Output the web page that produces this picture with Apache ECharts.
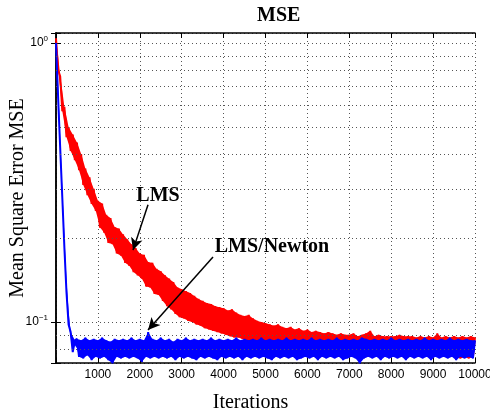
<!DOCTYPE html>
<html>
<head>
<meta charset="utf-8">
<script src="https://cdn.jsdelivr.net/npm/echarts@6/dist/echarts.min.js"></script>
<style>
html, body { margin: 0; padding: 0; background: #fff; }
#main { width: 490px; height: 411px; }
</style>
</head>
<body>
<div id="main"></div>
<script>
// one sample every 50 iterations, 0..10000
var step = 50;

// LMS learning curve (red)
var lmsMse = [
    1.04, 0.80, 0.76, 0.57, 0.59, 0.46, 0.50, 0.41, 0.47, 0.38,
    0.44, 0.35, 0.40, 0.31, 0.355, 0.285, 0.33, 0.265, 0.30, 0.25,
    0.272, 0.218, 0.266, 0.209, 0.242, 0.192, 0.236, 0.190, 0.219, 0.176,
    0.216, 0.173, 0.206, 0.163, 0.198, 0.159, 0.19, 0.151, 0.184, 0.147,
    0.176, 0.143, 0.174, 0.134, 0.164, 0.133, 0.163, 0.126, 0.155, 0.125,
    0.152, 0.119, 0.147, 0.114, 0.143, 0.111, 0.139, 0.107, 0.133, 0.104,
    0.131, 0.103, 0.129, 0.101, 0.127, 0.100, 0.124, 0.098, 0.121, 0.097,
    0.119, 0.095, 0.117, 0.094, 0.116, 0.093, 0.114, 0.092, 0.113, 0.091,
    0.112, 0.090, 0.110, 0.089, 0.111, 0.088, 0.108, 0.088, 0.106, 0.087,
    0.105, 0.086, 0.106, 0.085, 0.103, 0.085, 0.101, 0.084, 0.100, 0.084,
    0.099, 0.083, 0.098, 0.083, 0.097, 0.082, 0.098, 0.082, 0.096, 0.081,
    0.095, 0.081, 0.096, 0.080, 0.094, 0.080, 0.095, 0.080, 0.093, 0.079,
    0.094, 0.079, 0.092, 0.079, 0.093, 0.078, 0.092, 0.079, 0.091, 0.078,
    0.092, 0.078, 0.091, 0.078, 0.090, 0.078, 0.091, 0.077, 0.090, 0.078,
    0.090, 0.077, 0.091, 0.077, 0.089, 0.077, 0.090, 0.077, 0.091, 0.077,
    0.093, 0.077, 0.089, 0.076, 0.090, 0.077, 0.089, 0.076, 0.089, 0.076,
    0.089, 0.076, 0.089, 0.076, 0.090, 0.076, 0.089, 0.076, 0.089, 0.076,
    0.089, 0.075, 0.088, 0.076, 0.089, 0.075, 0.088, 0.075, 0.089, 0.075,
    0.088, 0.075, 0.091, 0.075, 0.088, 0.075, 0.089, 0.075, 0.088, 0.075,
    0.089, 0.075, 0.088, 0.074, 0.089, 0.075, 0.088, 0.074, 0.089, 0.075,
    0.088
];

// LMS/Newton learning curve (blue)
var newtonMse = [
    1.0, 0.64, 0.42, 0.28, 0.185, 0.128, 0.098, 0.092, 0.078, 0.086,
    0.087, 0.075, 0.086, 0.074, 0.088, 0.076, 0.086, 0.073, 0.087, 0.075,
    0.086, 0.074, 0.088, 0.075, 0.086, 0.073, 0.085, 0.071, 0.087, 0.075,
    0.086, 0.074, 0.087, 0.075, 0.086, 0.074, 0.088, 0.075, 0.086, 0.074,
    0.087, 0.072, 0.086, 0.075, 0.092, 0.074, 0.087, 0.075, 0.086, 0.074,
    0.088, 0.075, 0.086, 0.074, 0.087, 0.075, 0.085, 0.073, 0.087, 0.075,
    0.086, 0.074, 0.088, 0.075, 0.086, 0.074, 0.087, 0.073, 0.086, 0.075,
    0.087, 0.074, 0.086, 0.075, 0.088, 0.074, 0.086, 0.073, 0.087, 0.075,
    0.086, 0.074, 0.087, 0.075, 0.086, 0.074, 0.088, 0.075, 0.086, 0.073,
    0.087, 0.075, 0.086, 0.074, 0.087, 0.075, 0.086, 0.074, 0.088, 0.075,
    0.086, 0.074, 0.087, 0.073, 0.086, 0.075, 0.087, 0.074, 0.086, 0.075,
    0.088, 0.074, 0.086, 0.075, 0.087, 0.073, 0.086, 0.074, 0.087, 0.075,
    0.086, 0.074, 0.088, 0.075, 0.086, 0.073, 0.087, 0.075, 0.086, 0.074,
    0.087, 0.075, 0.086, 0.074, 0.088, 0.075, 0.086, 0.073, 0.087, 0.074,
    0.086, 0.075, 0.087, 0.074, 0.086, 0.071, 0.088, 0.074, 0.087, 0.075,
    0.086, 0.074, 0.087, 0.075, 0.086, 0.073, 0.087, 0.075, 0.086, 0.074,
    0.088, 0.075, 0.086, 0.074, 0.087, 0.075, 0.086, 0.073, 0.087, 0.075,
    0.086, 0.074, 0.087, 0.075, 0.086, 0.074, 0.088, 0.075, 0.086, 0.073,
    0.087, 0.075, 0.086, 0.074, 0.087, 0.075, 0.086, 0.074, 0.088, 0.075,
    0.086, 0.073, 0.087, 0.075, 0.086, 0.074, 0.087, 0.075, 0.086, 0.074,
    0.086
];

// dotted grid at the minor log ticks
var minorGrid = [0.08, 0.09, 0.2, 0.3, 0.4, 0.5, 0.6, 0.7, 0.8, 0.9];

// annotations (iteration, MSE)
var lmsArrow = [[2196, 0.263], [1838, 0.181]];
var newtonArrow = [[3747, 0.171], [2196, 0.0936]];
var lmsLabelAt = [2434, 0.283];
var newtonLabelAt = [5155, 0.186];

function pairs(values) {
    return values.map(function (v, i) { return [i * step, v]; });
}

// solid fill covering the noise band of a curve
function noiseBand(values, color, z) {
    return {
        type: 'custom',
        data: [[0, 1]],
        z: z,
        silent: true,
        clip: true,
        renderItem: function (params, api) {
            var up = [], low = [];
            for (var i = 0; i < values.length; i++) {
                var a = i > 0 ? values[i - 1] : values[i];
                var b = i < values.length - 1 ? values[i + 1] : values[i];
                var m = (a + b) / 2;
                up.push(api.coord([i * step, Math.max(values[i], m)]));
                low.push(api.coord([i * step, Math.min(values[i], m)]));
            }
            return {
                type: 'polygon',
                shape: { points: up.concat(low.reverse()) },
                style: { fill: color }
            };
        }
    };
}

function curve(name, values, color, z) {
    return {
        name: name,
        type: 'line',
        data: pairs(values),
        showSymbol: false,
        lineStyle: { color: color, width: 2 },
        itemStyle: { color: color },
        z: z
    };
}

var serif = 'Liberation Serif';
var sans = 'Liberation Sans';
var gridDots = { color: '#555', width: 1, type: [1, 3] };

var chart = echarts.init(document.getElementById('main'));
chart.setOption({
    animation: false,
    title: {
        text: 'MSE',
        left: 257,
        top: 6,
        padding: 0,
        textStyle: { fontFamily: serif, fontWeight: 'bold', fontSize: 20, color: '#000' }
    },
    grid: { left: 56, right: 15, top: 33, bottom: 48, outerBoundsMode: 'none' },
    xAxis: [{
        type: 'value',
        min: 0,
        max: 10000,
        interval: 1000,
        name: 'Iterations',
        nameLocation: 'middle',
        nameGap: 30,
        nameTextStyle: { fontFamily: serif, fontSize: 20, color: '#000', padding: [0, 30, 0, 0] },
        axisLine: { lineStyle: { color: '#000', width: 1.5 } },
        axisTick: { inside: true, length: 5, lineStyle: { color: '#000' } },
        axisLabel: {
            fontFamily: sans, fontSize: 12, color: '#000', margin: 6,
            formatter: function (v) { return v === 0 ? '' : String(v); }
        },
        splitLine: { show: true, lineStyle: gridDots }
    }, {
        type: 'value',
        position: 'top',
        min: 0,
        max: 10000,
        interval: 1000,
        axisLine: { lineStyle: { color: '#000', width: 1.5 } },
        axisTick: { inside: true, length: 5, lineStyle: { color: '#000' } },
        axisLabel: { show: false },
        splitLine: { show: false }
    }],
    yAxis: [{
        type: 'log',
        logBase: 10,
        min: 0.0713,
        max: 1.086,
        name: 'Mean Square Error MSE',
        nameLocation: 'middle',
        nameGap: 28,
        nameMoveOverlap: false,
        nameRotate: 90,
        nameTextStyle: { fontFamily: serif, fontSize: 20, color: '#000' },
        axisLine: { show: true, lineStyle: { color: '#000', width: 1.5 } },
        axisTick: { show: true, inside: true, length: 5, lineStyle: { color: '#000' } },
        axisLabel: {
            margin: 8,
            color: '#000',
            formatter: function (v) {
                var e = Math.log(v) / Math.LN10;
                var r = Math.round(e);
                if (Math.abs(e - r) > 1e-6) return '';
                return '{b|10}{s|' + (r < 0 ? '\u2212' + (-r) : r) + '}';
            },
            rich: {
                b: { fontFamily: sans, fontSize: 12, color: '#000' },
                s: { fontFamily: sans, fontSize: 8, color: '#000', padding: [0, 0, 8, 0] }
            }
        },
        splitLine: { show: true, lineStyle: gridDots }
    }, {
        type: 'log',
        logBase: 10,
        position: 'right',
        min: 0.0713,
        max: 1.086,
        axisLine: { show: true, lineStyle: { color: '#000', width: 1.5 } },
        axisTick: { show: true, inside: true, length: 5, lineStyle: { color: '#000' } },
        axisLabel: { show: false },
        splitLine: { show: false }
    }],
    series: [{
        type: 'line',
        data: [],
        z: 1,
        silent: true,
        markLine: {
            silent: true,
            symbol: ['none', 'none'],
            label: { show: false },
            lineStyle: gridDots,
            data: minorGrid.map(function (v) { return { yAxis: v }; })
        }
    },
    noiseBand(lmsMse, '#ff0000', 3),
    curve('LMS', lmsMse, '#ff0000', 3),
    noiseBand(newtonMse, '#0000ff', 4),
    curve('LMS/Newton', newtonMse, '#0000ff', 4),
    {
        type: 'line',
        data: [],
        z: 5,
        silent: true,
        markLine: {
            silent: true,
            symbol: ['none', 'arrow'],
            symbolSize: [9, 12],
            label: { show: false },
            lineStyle: { color: '#000', width: 1.5, type: 'solid' },
            data: [
                [{ coord: lmsArrow[0] }, { coord: lmsArrow[1] }],
                [{ coord: newtonArrow[0] }, { coord: newtonArrow[1] }]
            ]
        },
        markPoint: {
            silent: true,
            symbol: 'circle',
            symbolSize: 0,
            label: {
                show: true, position: 'inside', formatter: '{b}',
                fontFamily: serif, fontWeight: 'bold', fontSize: 20, color: '#000'
            },
            data: [
                { name: 'LMS', coord: lmsLabelAt },
                { name: 'LMS/Newton', coord: newtonLabelAt }
            ]
        }
    }]
});
</script>
</body>
</html>
